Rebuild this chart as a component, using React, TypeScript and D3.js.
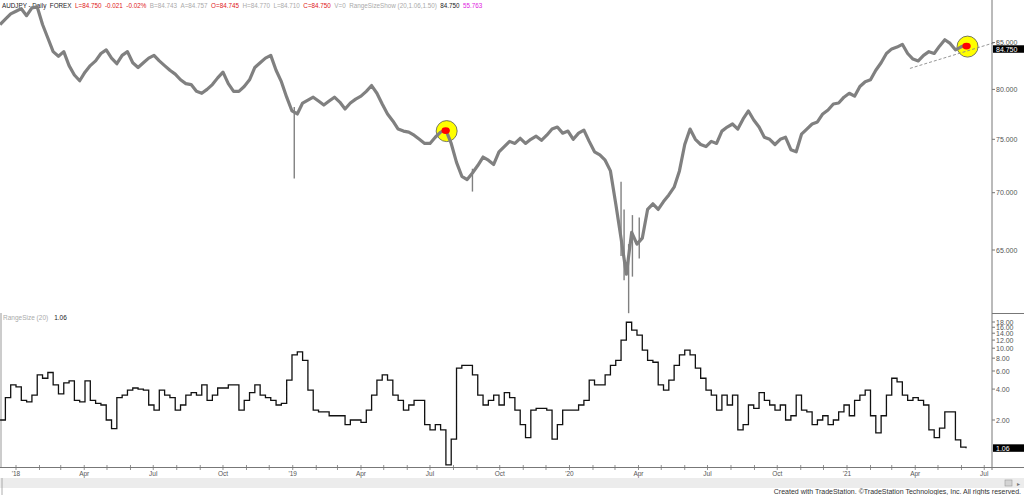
import React from "react";
import * as d3 from "d3";

// ---------- DATA (weekly) ----------
const firstWeek = "2017-12-11"; // weekly observations start here

const priceClose = [
  87.0, 87.6, 88.2, 88.5, 88.8, 88.0, 88.9, 89.0, 87.0, 85.5,
  84.0, 83.5, 84.0, 82.5, 81.5, 80.9, 81.8, 82.5, 83.0, 83.8,
  84.2, 83.3, 82.7, 83.6, 84.0, 82.8, 82.3, 82.8, 83.3, 83.6,
  83.0, 82.5, 82.0, 81.6, 81.0, 80.6, 80.5, 79.8, 79.6, 80.0,
  80.5, 81.2, 81.8, 80.6, 79.8, 79.8, 80.3, 81.0, 82.3, 82.8,
  83.3, 83.6, 82.0, 80.8, 79.2, 77.8, 77.5, 78.6, 78.9, 79.2,
  78.8, 78.4, 78.8, 79.2, 78.7, 78.0, 78.6, 79.0, 79.3, 79.8,
  80.4, 79.6, 78.5, 77.5, 76.8, 76.0, 75.8, 75.7, 75.4, 75.0,
  74.6, 74.6, 75.2, 75.7, 75.9, 74.6, 72.8, 71.5, 71.2, 71.8,
  72.5, 73.3, 73.0, 72.6, 73.8, 74.3, 74.8, 74.6, 75.1, 74.6,
  75.0, 75.3, 74.9, 75.4, 76.0, 76.2, 75.6, 75.8, 75.0, 75.6,
  75.9, 74.8, 73.8, 73.5, 73.0, 72.0, 69.0, 66.0, 63.0, 66.5,
  65.5, 66.0, 68.5, 69.0, 68.5, 69.2, 69.8, 70.5, 72.0, 74.5,
  76.0, 75.0, 74.5, 74.3, 74.8, 74.6, 75.8, 76.2, 76.5, 76.0,
  77.0, 77.8, 76.9, 76.2, 75.2, 75.0, 74.5, 75.0, 75.2, 74.0,
  73.8, 75.5, 76.0, 76.5, 76.7, 77.5, 77.9, 78.5, 78.6, 79.2,
  79.6, 79.3, 80.3, 80.8, 81.0, 82.0, 82.8, 83.8, 84.3, 84.5,
  84.8, 83.8, 83.2, 83.0, 83.6, 84.0, 83.8, 84.6, 85.3, 84.9,
  84.2, 84.5, 84.75,
];

const rangeSize = [
  2.0, 3.3, 4.4, 4.2, 3.1, 3.0, 3.5, 5.5, 5.1, 5.8,
  4.4, 3.6, 4.6, 4.8, 3.1, 3.0, 4.8, 3.1, 2.9, 2.8,
  2.0, 1.65, 3.3, 3.5, 3.9, 4.1, 4.0, 3.9, 2.8, 2.5,
  3.9, 3.5, 3.3, 2.5, 2.8, 3.5, 3.7, 3.5, 4.4, 3.1,
  3.5, 4.1, 4.1, 4.4, 4.4, 2.5, 3.1, 3.7, 4.4, 3.5,
  3.3, 3.1, 2.8, 2.9, 4.9, 8.6, 9.2, 7.6, 3.9, 2.5,
  2.4, 2.4, 2.2, 2.2, 2.2, 1.8, 2.0, 2.0, 1.9, 2.5,
  3.5, 4.9, 5.5, 4.9, 3.5, 3.1, 2.5, 2.8, 3.1, 3.1,
  1.8, 1.6, 1.8, 1.6, 0.73, 1.3, 6.4, 6.8, 6.8, 5.5,
  3.5, 2.8, 3.1, 3.5, 2.8, 3.7, 3.3, 2.5, 1.8, 1.35,
  2.5, 2.6, 2.6, 2.5, 1.3, 1.8, 2.5, 2.5, 2.5, 2.8,
  3.1, 4.9, 4.4, 4.4, 5.5, 6.8, 7.6, 12.0, 17.9, 15.0,
  13.4, 9.6, 7.6, 7.3, 4.4, 3.9, 4.9, 6.8, 8.6, 9.6,
  8.6, 6.4, 5.1, 3.9, 3.5, 2.5, 3.5, 2.8, 3.5, 1.6,
  1.8, 2.8, 2.6, 3.7, 3.1, 2.8, 2.5, 2.8, 2.0, 2.2,
  3.5, 2.5, 2.4, 1.8, 2.0, 2.2, 1.8, 2.0, 2.4, 2.8,
  2.2, 3.1, 3.5, 3.9, 2.2, 1.5, 2.2, 3.5, 5.1, 4.7,
  3.5, 3.1, 3.3, 3.1, 2.8, 1.6, 1.35, 1.67, 2.4, 2.4,
  1.28, 1.09, 1.06,
];

// intraweek extremes (long wicks)
const spikeDates = ["2019-01-03", "2019-08-26", "2020-03-09", "2020-03-13", "2020-03-19", "2020-03-24", "2020-04-02"];
const spikeLows = [71.3, 70.1, 64.5, 62.5, 59.9, 62.8, 64.3];
const spikeHighs = [78.2, 72.2, 71.0, 68.5, 65.5, 68.0, 67.8];

// highlight circles
const markerDates = ["2019-07-23", "2021-06-09"];
const markerPrices = [75.8, 84.55];

// dashed trendline
const trendDates = ["2021-03-25", "2021-07-19"];
const trendPrices = [82.2, 85.1];

const priceTicks = [85, 80, 75, 70, 65];
const rangeTicks = [18, 16, 14, 12, 10, 8, 6, 4, 2];

const xTickDates = [
  "2018-01-01", "2018-04-01", "2018-07-01", "2018-10-01",
  "2019-01-01", "2019-04-01", "2019-07-01", "2019-10-01",
  "2020-01-01", "2020-04-01", "2020-07-01", "2020-10-01",
  "2021-01-01", "2021-04-01", "2021-07-01",
];
const xTickLabels = ["'18", "Apr", "Jul", "Oct", "'19", "Apr", "Jul", "Oct", "'20", "Apr", "Jul", "Oct", "'21", "Apr", "Jul"];

const headerTokens = [
  { t: "AUDJPY - Daily", c: "#222" },
  { t: "FOREX", c: "#222" },
  { t: "L=84.750", c: "#e02020" },
  { t: "-0.021", c: "#e02020" },
  { t: "-0.02%", c: "#e02020" },
  { t: "B=84.743", c: "#aaa" },
  { t: "A=84.757", c: "#aaa" },
  { t: "O=84.745", c: "#e02020" },
  { t: "H=84.770", c: "#aaa" },
  { t: "L=84.710", c: "#aaa" },
  { t: "C=84.750", c: "#e02020" },
  { t: "V=0", c: "#aaa" },
  { t: "RangeSizeShow (20,1.06,1.50)", c: "#aaa" },
  { t: "84.750", c: "#222" },
  { t: "55.763", c: "#e020e0" },
];

const lastPrice = 84.75;
const lastRange = 1.06;

// ---------- CHART ----------
const W = 1024;
const H = 495;
const AXIS_X = 992;
const FONT = "'Liberation Sans', Arial, sans-serif";

export default function App() {
  const parse = d3.timeParse("%Y-%m-%d");
  const start = parse(firstWeek) as Date;
  const dates = priceClose.map((_, i) => d3.timeWeek.offset(start, i));

  const x = d3
    .scaleTime()
    .domain([parse("2018-01-01") as Date, parse("2021-01-01") as Date])
    .range([16, 847]);
  const yP = d3.scaleLog().domain([85, 65]).range([42.5, 250]);
  const yR = d3.scaleLog().domain([2, 18]).range([420, 322]);

  const priceLine = d3
    .line<number>()
    .x((_, i) => x(dates[i]))
    .y((d) => yP(d))(priceClose) as string;

  const rangeLine = d3
    .line<number>()
    .curve(d3.curveStepAfter)
    .x((_, i) => x(dates[i]))
    .y((d) => yR(d))(rangeSize) as string;

  const months = d3.timeMonth.range(parse("2018-01-01") as Date, parse("2021-07-02") as Date);

  return (
    <svg
      width={W}
      height={H}
      style={{ position: "fixed", left: 0, top: 0, background: "#fff" }}
      fontFamily={FONT}
    >
      <rect x={0} y={0} width={W} height={H} fill="#fff" />

      {/* header */}
      <text x={2} y={7.5} fontSize={6.3} style={{ whiteSpace: "pre" }}>
        {headerTokens.map((h, i) => (
          <tspan key={i} fill={h.c} dx={i === 0 ? 0 : 3.5}>
            {h.t}
          </tspan>
        ))}
      </text>

      {/* highlight circles (behind price) */}
      {markerDates.map((d, i) => (
        <circle
          key={"c" + i}
          cx={x(parse(d) as Date)}
          cy={yP(markerPrices[i])}
          r={10.5}
          fill="#ffff00"
          stroke="#555"
          strokeWidth={0.8}
        />
      ))}

      {/* dashed trendline */}
      <line
        x1={x(parse(trendDates[0]) as Date)}
        y1={yP(trendPrices[0])}
        x2={x(parse(trendDates[1]) as Date)}
        y2={yP(trendPrices[1])}
        stroke="#8a8a8a"
        strokeWidth={0.9}
        strokeDasharray="3,2"
      />

      {/* price */}
      <path d={priceLine} fill="none" stroke="#808080" strokeWidth={3.2} strokeLinejoin="round" />
      {spikeDates.map((d, i) => (
        <line
          key={"s" + i}
          x1={x(parse(d) as Date)}
          x2={x(parse(d) as Date)}
          y1={yP(spikeHighs[i])}
          y2={yP(spikeLows[i])}
          stroke="#808080"
          strokeWidth={1.4}
        />
      ))}

      {/* red blobs */}
      {markerDates.map((d, i) => (
        <ellipse
          key={"r" + i}
          cx={x(parse(d) as Date) - 1}
          cy={yP(markerPrices[i]) - 0.5}
          rx={4.2}
          ry={3.4}
          fill="#ff0000"
        />
      ))}

      {/* right axis */}
      <line x1={AXIS_X} x2={AXIS_X} y1={0} y2={470} stroke="#777" strokeWidth={1} />
      <line x1={AXIS_X} x2={W} y1={313.5} y2={313.5} stroke="#777" strokeWidth={1} />
      {priceTicks.map((p) => (
        <g key={"pt" + p}>
          <line x1={AXIS_X} x2={AXIS_X + 3} y1={yP(p)} y2={yP(p)} stroke="#777" />
          <text x={AXIS_X + 4} y={yP(p) + 2.5} fontSize={7} fill="#555">
            {p.toFixed(3)}
          </text>
        </g>
      ))}
      <rect x={AXIS_X + 1} y={yP(lastPrice) + 0.5} width={31} height={7.5} fill="#000" />
      <text x={AXIS_X + 4} y={yP(lastPrice) + 6.8} fontSize={7} fill="#fff">
        {lastPrice.toFixed(3)}
      </text>

      {/* indicator panel */}
      <line x1={1} x2={1} y1={313} y2={467} stroke="#999" strokeWidth={1} />
      <text x={3} y={320} fontSize={6.5} fill="#aaa">
        RangeSize (20)
        <tspan dx={6} fill="#222">
          {lastRange.toFixed(2)}
        </tspan>
      </text>
      <path d={rangeLine} fill="none" stroke="#111" strokeWidth={1.3} strokeLinejoin="miter" />
      {rangeTicks.map((v) => (
        <g key={"rt" + v}>
          <line x1={AXIS_X} x2={AXIS_X + 3} y1={yR(v)} y2={yR(v)} stroke="#777" />
          <text x={AXIS_X + 4} y={yR(v) + 2.5} fontSize={7} fill="#555">
            {v.toFixed(2)}
          </text>
        </g>
      ))}
      <rect x={AXIS_X + 1} y={yR(lastRange) - 4} width={31} height={7.5} fill="#000" />
      <text x={AXIS_X + 4} y={yR(lastRange) + 2.3} fontSize={7} fill="#fff">
        {lastRange.toFixed(2)}
      </text>

      {/* x axis */}
      <line x1={0} x2={W} y1={467.5} y2={467.5} stroke="#777" strokeWidth={1} />
      {months.map((m, i) => (
        <line key={"m" + i} x1={x(m)} x2={x(m)} y1={465} y2={470} stroke="#777" strokeWidth={0.8} />
      ))}
      {xTickDates.map((d, i) => (
        <text key={"xl" + i} x={x(parse(d) as Date)} y={476} fontSize={6.5} fill="#555" textAnchor="middle">
          {xTickLabels[i]}
        </text>
      ))}

      {/* bottom strip and footer */}
      <rect x={0} y={478} width={W} height={10} fill="#ececec" />
      <line x1={2} x2={2} y1={478} y2={495} stroke="#999" strokeWidth={0.8} />
      <rect x={1005} y={480} width={7} height={6} fill="#d4d4d4" stroke="#999" strokeWidth={0.6} />
      <text x={1017} y={485.5} fontSize={6} fill="#777">
        ▸
      </text>
      <text x={1021} y={494} fontSize={7} fill="#333" textAnchor="end">
        Created with TradeStation. ©TradeStation Technologies, Inc. All rights reserved.
      </text>
    </svg>
  );
}
